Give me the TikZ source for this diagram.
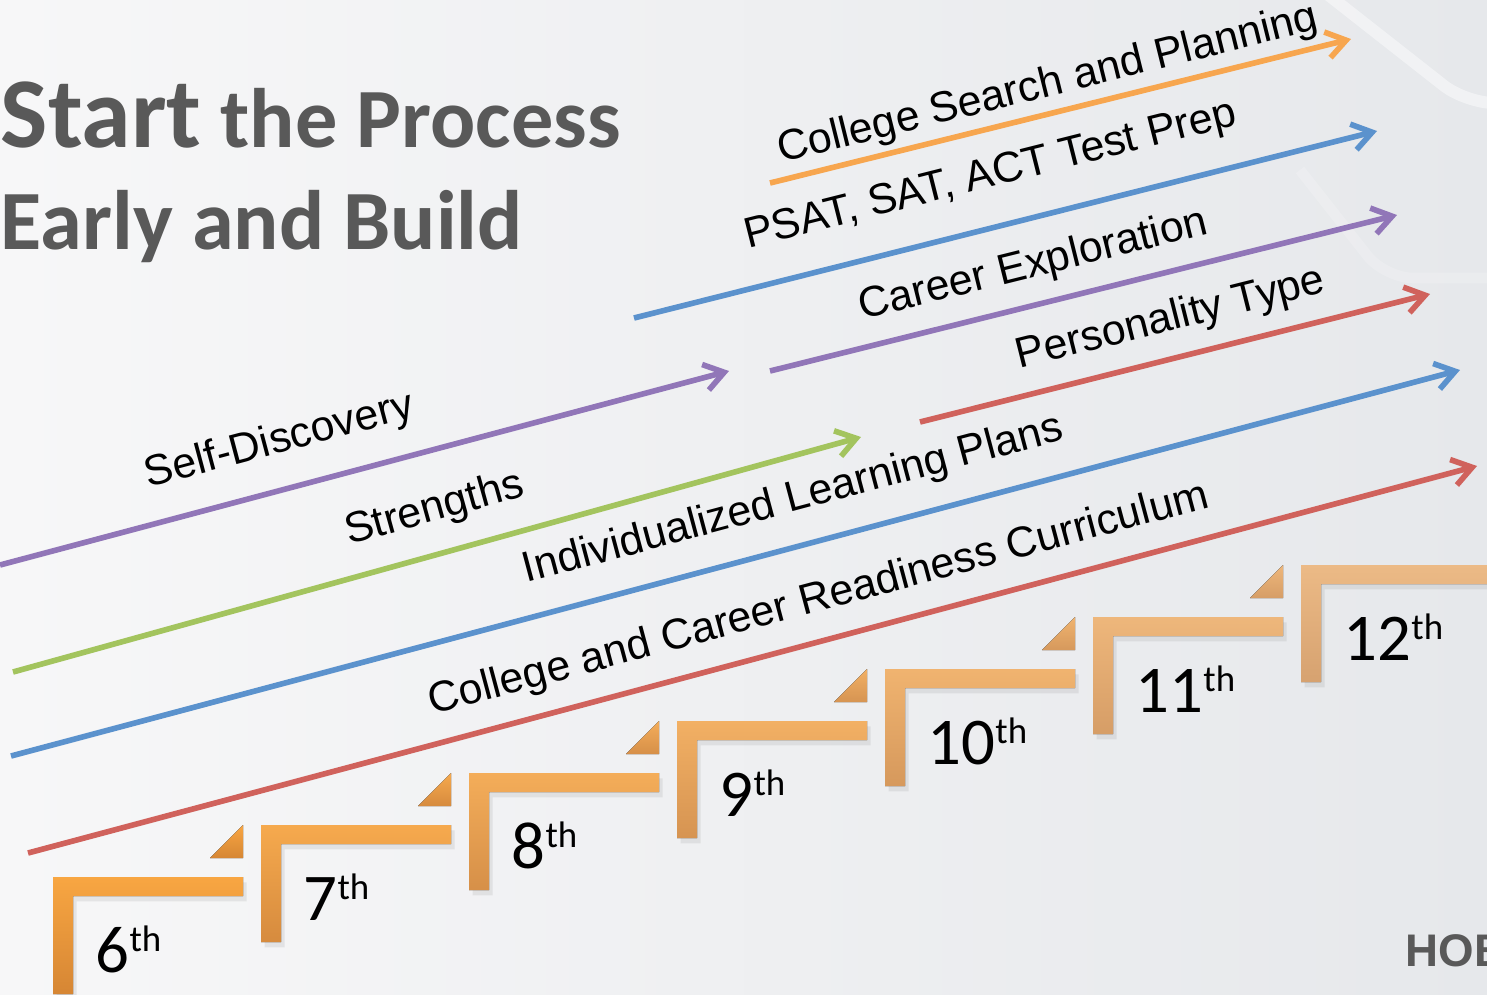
\documentclass[tikz,border=0pt]{standalone}
\usepackage{fontspec}
\setmainfont{Liberation Sans}
\newfontfamily\titlefont{Carlito}
\newfontfamily\gradefont{Carlito}
\usetikzlibrary{arrows.meta,positioning,shadows}

\definecolor{bgleft}{RGB}{247,247,248}
\definecolor{bgright}{RGB}{230,232,235}
\definecolor{titlegray}{RGB}{89,89,89}
\definecolor{lineorange}{RGB}{247,166,79}
\definecolor{lineblue}{RGB}{91,146,205}
\definecolor{linepurple}{RGB}{145,118,184}
\definecolor{linered}{RGB}{208,98,92}
\definecolor{linegreen}{RGB}{163,196,94}
\definecolor{stepA}{RGB}{248,166,66}
\definecolor{stepAd}{RGB}{214,134,52}
\definecolor{stepB}{RGB}{236,186,134}
\definecolor{stepBd}{RGB}{214,162,112}

\newcommand{\gradesup}{\raisebox{5.8pt}{\fontsize{10.5}{10.5}\selectfont th}}

\begin{document}
\begin{tikzpicture}[x=0.1mm,y=-0.1mm,>={Straight Barb[length=5.5pt,width=7.5pt]},
	every edge/.style={draw,line width=1.6pt},
	lbl/.style={font=\fontsize{12.2}{14}\selectfont,sloped,above,inner sep=1pt},
	title/.style={font={\titlefont\bfseries\fontsize{24}{28}\selectfont},text=titlegray,inner sep=0pt,anchor=base west},
	grade/.style={font={\gradefont\fontsize{19}{19}\selectfont},inner sep=0pt,anchor=base west},
	logo/.style={font={\bfseries\fontsize{13}{13}\selectfont},text=titlegray,inner sep=0pt,anchor=base west}]
	\useasboundingbox (0,0) rectangle (1487,994);
	\shade[left color=bgleft,right color=bgright] (0,0) rectangle (1487,994);
	% faint bands in the corner
	\draw[white,opacity=.45,line width=3.4pt,rounded corners=8pt] (1322,-10) -- (1466,103) -- (1500,103);
	\draw[white,opacity=.18,line width=3pt,rounded corners=8pt] (1300,170) -- (1385,278) -- (1500,278);

	\node[title] (t1) at (0,147) {{\fontsize{28.5}{30}\selectfont Start} the Process};
	\node[title] (t2) at (0,249) {Early and Build};

	\coordinate (cs0) at (770,183);  \coordinate (cs1) at (1351,39);
	\coordinate (tp0) at (634,318);  \coordinate (tp1) at (1377,131);
	\coordinate (ce0) at (770,371);  \coordinate (ce1) at (1397,215);
	\coordinate (pt0) at (920,422);  \coordinate (pt1) at (1430,294);
	\coordinate (sd0) at (0,565);    \coordinate (sd1) at (729,371);
	\coordinate (st0) at (13,672);   \coordinate (st1) at (861,437);
	\coordinate (il0) at (11,756);   \coordinate (il1) at (1460,370);
	\coordinate (cr0) at (28,853);   \coordinate (cr1) at (1477,466);

	\path[->]
	(cs0) edge[draw=lineorange] node[lbl,above=.5pt,pos=.49] {College Search and Planning} (cs1)
	(tp0) edge[draw=lineblue] node[lbl,above=7pt,pos=.497] {PSAT, SAT, ACT Test Prep} (tp1)
	(ce0) edge[draw=linepurple] node[lbl,above=3.5pt,pos=.435] {Career Exploration} (ce1)
	(pt0) edge[draw=linered] node[lbl,above=3.5pt,pos=.51] {Personality Type} (pt1)

	(sd0) edge[draw=linepurple] node[lbl,above=6pt,pos=.40] {Self-Discovery} (sd1)
	(st0) edge[draw=linegreen] node[lbl,above=5pt,pos=.511] {Strengths} (st1)
	(il0) edge[draw=lineblue] node[lbl,above=5.5pt,pos=.548] {Individualized Learning Plans} (il1)
	(cr0) edge[draw=linered] node[lbl,above=4pt,pos=.553] {College and Career Readiness Curriculum} (cr1)
	;

	% the stairs
	\foreach \i/\g in {0/6,1/7,2/8,3/9,4/10,5/11,6/12}{
		\pgfmathsetmacro\sx{53+208*\i}
		\pgfmathsetmacro\sy{877-52*\i}
		\pgfmathtruncatemacro\mx{100-100*\i/6}
		\fill[top color=stepA!\mx!stepB,bottom color=stepAd!\mx!stepBd,
			drop shadow={opacity=.15,shadow xshift=1pt,shadow yshift=-1.5pt}]
			(\sx,\sy) -- ++(190,0) -- ++(0,19) -- ++(-170,0) -- ++(0,98) -- ++(-20,0) -- cycle;
		\ifnum\i<6
		\fill[top color=stepA!\mx!stepB,bottom color=stepAd!\mx!stepBd]
			(\sx+157,\sy-19) -- (\sx+190,\sy-19) -- (\sx+190,\sy-52) -- cycle;
		\fi
		\node[grade] (g\g) at (\sx+42,\sy+95) {\g\gradesup};
	}

	\node[logo] (hob) at (1405,966) {HOB};
\end{tikzpicture}
\end{document}
